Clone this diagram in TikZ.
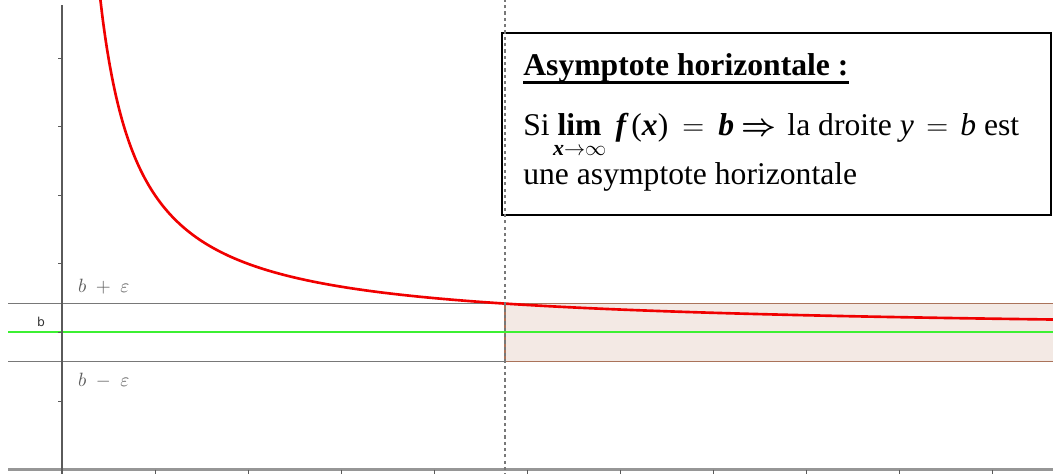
\documentclass[tikz,border=0pt]{standalone}
\usepackage{amsmath}
\usepackage{fontspec}
\setmainfont{Liberation Serif}
\setsansfont{DejaVu Sans}
\definecolor{axisgray}{RGB}{90,90,90}
\definecolor{xaxisgray}{RGB}{150,150,150}
\definecolor{linegray}{RGB}{120,120,120}
\definecolor{labelgray}{RGB}{95,95,95}
\definecolor{bandfill}{RGB}{243,233,228}
\definecolor{bandborder}{RGB}{170,115,90}
\definecolor{asymgreen}{RGB}{60,240,50}
\definecolor{curvered}{RGB}{240,0,0}
\newsavebox{\limsave}
\tikzset{
  guide/.style={draw=linegray, line width=0.6pt},
  lbl/.style={text=labelgray, inner sep=0pt, font=\fontsize{10.5}{12}\selectfont},
  boxtext/.style={anchor=base west, inner sep=0pt, font=\fontsize{18}{21}\selectfont},
}
\begin{document}
\begin{tikzpicture}[x=1.86cm, y=1.372cm]
\useasboundingbox (-0.6667,-0.0496) rectangle (10.656,6.8455);
% band
\filldraw[fill=bandfill, draw=bandborder, line width=0.8pt] (4.763,1.58) rectangle (10.8,2.42);
% guides
\coordinate (gl1) at (-0.58,2.42);
\coordinate (gr1) at (4.763,2.42);
\coordinate (gl2) at (-0.58,1.58);
\coordinate (gr2) at (4.763,1.58);
\draw[guide] (gl1) -- (gr1);
\draw[guide] (gl2) -- (gr2);
% green asymptote
\coordinate (al) at (-0.58,2);
\coordinate (ar) at (10.7,2);
\draw[asymgreen, line width=1.1pt] (al) -- (ar);
% axes
\coordinate (xl) at (-0.58,0);
\coordinate (xr) at (10.7,0);
\draw[xaxisgray, line width=1.6pt] (xl) -- (xr);
\coordinate (yb) at (0,-0.1);
\coordinate (yt) at (0,6.77);
\draw[axisgray, line width=0.9pt] (yb) -- (yt);
\foreach \i in {1,...,10} \draw[axisgray, line width=0.5pt] (\i,0) -- (\i,-0.06);
\foreach \j in {1,...,6} \draw[axisgray, line width=0.5pt] (0,\j) -- (-0.045,\j);
% curve
\draw[curvered, line width=1.5pt] plot[domain=0.405:10.7, samples=300, smooth] (\x,{2+2/\x});
% labels
\node[lbl, anchor=base west] (bplus) at (0.17,2.579) {$b\mathbin{\hspace{3pt}+\hspace{3pt}}\varepsilon$};
\node[lbl, anchor=base west] (bminus) at (0.17,1.21) {$b\mathbin{\hspace{3pt}-\hspace{3pt}}\varepsilon$};
\node[lbl, anchor=base, text=black!80, font=\sffamily\fontsize{7}{8}\selectfont] (blab) at (-0.226,2.089) {b};
% box
\draw[fill=white, draw=black, line width=1.1pt] (4.731,3.71) rectangle (10.63,6.364);
% dashed vertical (over the box)
\coordinate (dt) at (4.763,6.9);
\coordinate (db) at (4.763,-0.1);
\draw[linegray, line width=0.8pt, dash pattern=on 1.8pt off 1.8pt] (db) -- (dt);
\node[boxtext] (title) at (4.957,5.752) {\textbf{Asymptote horizontale :}};
\draw[line width=1.4pt] ([yshift=-4.3pt]title.base west) -- ([yshift=-4.3pt]title.base east);
\node[boxtext] (line2) at (4.957,4.863) {Si \sbox\limsave{\textbf{lim}}\usebox\limsave\hspace{-\wd\limsave}\raisebox{-11.3pt}{\makebox[\wd\limsave][c]{\fontsize{12.5}{12}\selectfont\textbf{\textit{x}}$\mathord{\to}\mathord{\infty}$}}\hspace{8pt}\textbf{\textit{f}}\hspace{1.5pt}(\textbf{\textit{x}})\hspace{8pt}$=$\hspace{8pt}\textbf{\textit{b}}\hspace{4pt}$\boldsymbol{\Rightarrow}$\hspace{2pt} la droite \textit{y}\hspace{7pt}$=$\hspace{7pt}\textit{b} est};
\node[boxtext] (line3) at (4.957,4.149) {une asymptote horizontale};
\end{tikzpicture}
\end{document}
